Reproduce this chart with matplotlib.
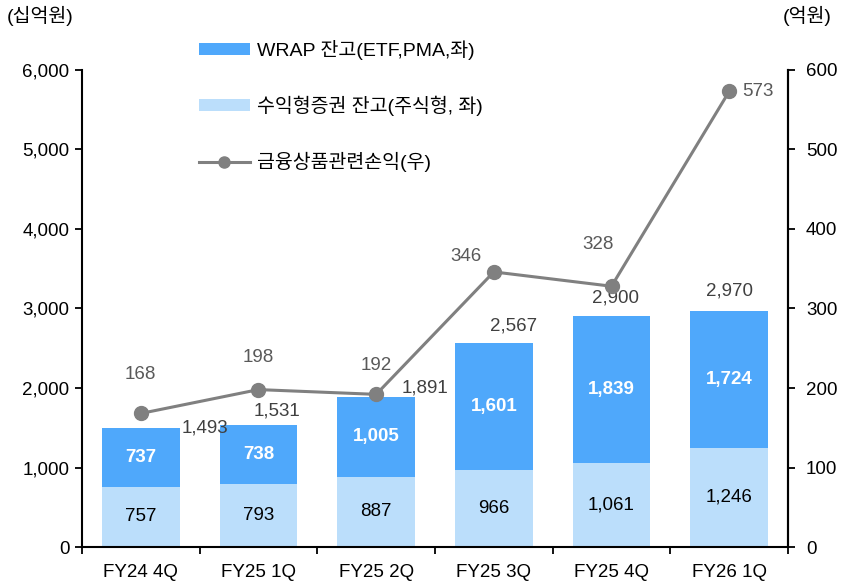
import matplotlib
matplotlib.use("Agg")
import matplotlib.pyplot as plt
from matplotlib import font_manager
from matplotlib.patches import Patch
from matplotlib.lines import Line2D
import numpy as np

# data
quarters = ["FY24 4Q", "FY25 1Q", "FY25 2Q", "FY25 3Q", "FY25 4Q", "FY26 1Q"]
equity_fund = [757, 793, 887, 966, 1061, 1246]     # 수익형증권 잔고 (십억원)
wrap_balance = [737, 738, 1005, 1601, 1839, 1724]   # WRAP 잔고 (십억원)
totals = [1493, 1531, 1891, 2567, 2900, 2970]
fin_pnl = [168, 198, 192, 346, 328, 573]            # 금융상품관련손익 (억원)

legend_labels = ["WRAP 잔고(ETF,PMA,좌)", "수익형증권 잔고(주식형, 좌)", "금융상품관련손익(우)"]

# fonts
installed = {f.name for f in font_manager.fontManager.ttflist}
latin = "Liberation Sans Narrow" if "Liberation Sans Narrow" in installed else "Liberation Sans"
plt.rcParams["font.family"] = [latin, "Noto Sans CJK KR", "DejaVu Sans"]

WRAP_COLOR = "#4FA8FB"
EQ_COLOR = "#BBDEFB"
LINE_COLOR = "#808080"

fig = plt.figure(figsize=(8.6, 5.83), dpi=100)
ax = fig.add_axes([0.0953, 0.0617, 0.8210, 0.8183])
ax2 = ax.twinx()

x = np.arange(len(quarters))
w = 0.66
ax.bar(x, equity_fund, w, color=EQ_COLOR, zorder=2)
ax.bar(x, wrap_balance, w, bottom=equity_fund, color=WRAP_COLOR, zorder=2)

for i in range(len(x)):
    ax.text(x[i], equity_fund[i] / 2, f"{equity_fund[i]:,}", ha="center", va="center",
            fontsize=13.5, color="black", zorder=3)
    ax.text(x[i], equity_fund[i] + wrap_balance[i] / 2, f"{wrap_balance[i]:,}",
            ha="center", va="center", fontsize=13.5, color="white", fontweight="bold", zorder=3)

# total labels (offsets in points)
total_offsets = [(46, 0), (13, 10), (35, 6), (14, 12), (3, 13), (0, 14)]
for i, (dx, dy) in enumerate(total_offsets):
    ax.annotate(f"{totals[i]:,}", (x[i], totals[i]), xytext=(dx, dy),
                textcoords="offset points", ha="center", va="center",
                fontsize=13.5, color="#404040", zorder=3)

ax.set_xlim(-0.5, len(x) - 0.5)
ax.set_ylim(0, 6000)
ax.set_yticks(np.arange(0, 6001, 1000))
ax.set_yticklabels([f"{v:,}" for v in range(0, 6001, 1000)])
ax.set_xticks(x)
ax.set_xticklabels(quarters)
ax.set_xticks(np.arange(-0.5, len(x), 1), minor=True)
ax.tick_params(axis="x", which="major", length=0, labelsize=13.5, pad=12)
ax.tick_params(axis="x", which="minor", length=5, width=1.3, direction="out")
ax.tick_params(axis="y", length=5, width=1.3, direction="out", labelsize=13.5, pad=4)

# line on right axis
ax2.plot(x, fin_pnl, color=LINE_COLOR, lw=2.2, marker="o", ms=10, zorder=4)
ax2.set_ylim(0, 600)
ax2.set_yticks(np.arange(0, 601, 100))
ax2.tick_params(axis="y", length=5, width=1.3, direction="out", labelsize=13.5, pad=8)

line_offsets = [(0, 28), (0, 23), (0, 21), (-20, 11), (-10, 30), (21, 0)]
for i, (dx, dy) in enumerate(line_offsets):
    ax2.annotate(str(fin_pnl[i]), (x[i], fin_pnl[i]), xytext=(dx, dy),
                 textcoords="offset points", ha="center", va="center",
                 fontsize=13.5, color="#595959", zorder=5)

for a in (ax, ax2):
    a.spines["top"].set_visible(False)
    for s in ("left", "right", "bottom"):
        a.spines[s].set_linewidth(1.5)
        a.spines[s].set_color("black")
ax2.spines["left"].set_visible(False)
ax2.spines["bottom"].set_visible(False)

fig.text(0.008, 0.972, "(십억원)", fontsize=14, ha="left", va="center")
fig.text(0.967, 0.972, "(억원)", fontsize=14, ha="right", va="center")

handles = [
    Patch(facecolor=WRAP_COLOR, edgecolor="none"),
    Patch(facecolor=EQ_COLOR, edgecolor="none"),
    Line2D([0], [0], color=LINE_COLOR, lw=2.2, marker="o", ms=8),
]
ax2.legend(handles, legend_labels, loc="upper left", bbox_to_anchor=(0.211, 0.962),
           bbox_transform=fig.transFigure, frameon=False, fontsize=14,
           handlelength=2.6, handleheight=0.55, handletextpad=0.4, labelspacing=1.85)

fig.savefig("out.png", dpi=100)
